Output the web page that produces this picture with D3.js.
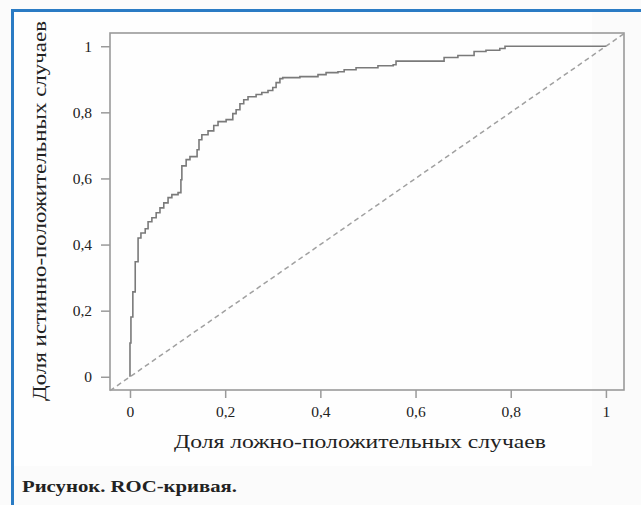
<!DOCTYPE html>
<html><head><meta charset="utf-8">
<script src="https://cdn.jsdelivr.net/npm/d3@7"></script>
<style>
html,body{margin:0;padding:0;background:#fbfbfb;}
svg{display:block;}
</style></head>
<body>
<svg id="c" width="641" height="505"></svg>
<script>
// ROC curve vertices (false positive rate, true positive rate), drawn as steps
const fpr = [0,0.002,0.006,0.011,0.017,0.023,0.032,0.038,0.046,0.055,0.063,0.071,0.080,0.088,0.101,0.107,0.109,0.118,0.126,0.141,0.145,0.151,0.164,0.176,0.185,0.202,0.216,0.223,0.231,0.239,0.248,0.265,0.277,0.290,0.300,0.307,0.315,0.321,0.357,0.395,0.412,0.437,0.450,0.475,0.521,0.553,0.559,0.660,0.689,0.723,0.748,0.777,0.788,1.0];
const tpr = [0,0.102,0.181,0.257,0.348,0.420,0.435,0.448,0.469,0.481,0.496,0.511,0.526,0.542,0.551,0.557,0.596,0.638,0.657,0.666,0.687,0.717,0.732,0.744,0.760,0.772,0.778,0.796,0.808,0.826,0.838,0.847,0.854,0.860,0.866,0.875,0.890,0.902,0.905,0.908,0.914,0.920,0.923,0.929,0.935,0.941,0.944,0.955,0.966,0.972,0.984,0.988,0.993,1.0];
const xTicks = [0,0.2,0.4,0.6,0.8,1];
const yTicks = [0,0.2,0.4,0.6,0.8,1];
const xTitle = "Доля ложно-положительных случаев";
const yTitle = "Доля истинно-положительных случаев";
const caption = "Рисунок. ROC-кривая.";
const domainMin = -0.042, domainMax = 1.038;

const svg = d3.select("#c");
const fmt = d => d === 0 ? "0" : d === 1 ? "1" : d3.format(".1f")(d).replace(".", ",");

// background panel
svg.append("rect").attr("x",14).attr("y",12).attr("width",578).attr("height",454).attr("fill","#fefefe");
// blue frame
svg.append("line").attr("x1",11).attr("x2",641).attr("y1",10.5).attr("y2",10.5).attr("stroke","#2a7bc4").attr("stroke-width",3);
svg.append("line").attr("x1",12.5).attr("x2",12.5).attr("y1",9).attr("y2",505).attr("stroke","#2a7bc4").attr("stroke-width",3);

const L=110, R=624, T=33, B=390;
const x = d3.scaleLinear().domain([domainMin, domainMax]).range([L, R]);
const y = d3.scaleLinear().domain([-0.04, 1.04]).range([B, T]);

const gray = "#9a9a9a";
const font = "Liberation Serif";

// axes
const xa = svg.append("g").attr("transform",`translate(0,${B})`)
  .call(d3.axisBottom(x).tickValues(xTicks).tickFormat(fmt).tickSize(8).tickSizeOuter(0).tickPadding(8));
const ya = svg.append("g").attr("transform",`translate(${L},0)`)
  .call(d3.axisLeft(y).tickValues(yTicks).tickFormat(fmt).tickSize(9).tickSizeOuter(0).tickPadding(9));
[xa,ya].forEach(g=>{
  g.select(".domain").remove();
  g.selectAll(".tick line").attr("stroke",gray).attr("stroke-width",1.5);
  g.selectAll(".tick text").attr("fill","#222").attr("font-family",font).attr("font-size",15.5);
});

// box
svg.append("rect").attr("x",L).attr("y",T).attr("width",R-L).attr("height",B-T)
  .attr("fill","none").attr("stroke",gray).attr("stroke-width",1.6);

// diagonal reference
svg.append("line").attr("x1",x(domainMin)).attr("y1",y(domainMin)).attr("x2",x(domainMax)).attr("y2",y(domainMax))
  .attr("stroke","#a0a0a0").attr("stroke-width",1.5).attr("stroke-dasharray","5,3.5");

// ROC curve
const pts = fpr.map((f,i)=>[f,tpr[i]]);
svg.append("path").datum(pts)
  .attr("d", d3.line().x(d=>x(d[0])).y(d=>y(d[1])).curve(d3.curveStepBefore))
  .attr("fill","none").attr("stroke","#7a7a7a").attr("stroke-width",1.6);

// titles
svg.append("text").attr("x",360).attr("y",448).attr("text-anchor","middle")
  .attr("font-family",font).attr("font-size",19).attr("fill","#222")
  .attr("textLength",372).attr("lengthAdjust","spacingAndGlyphs").text(xTitle);
svg.append("text").attr("transform","translate(46,211) rotate(-90)").attr("text-anchor","middle")
  .attr("font-family",font).attr("font-size",19).attr("fill","#222")
  .attr("textLength",380).attr("lengthAdjust","spacingAndGlyphs").text(yTitle);
svg.append("text").attr("x",22).attr("y",492)
  .attr("font-family",font).attr("font-size",17).attr("font-weight","bold").attr("fill","#222")
  .attr("textLength",215).attr("lengthAdjust","spacingAndGlyphs").text(caption);
</script>
</body></html>
